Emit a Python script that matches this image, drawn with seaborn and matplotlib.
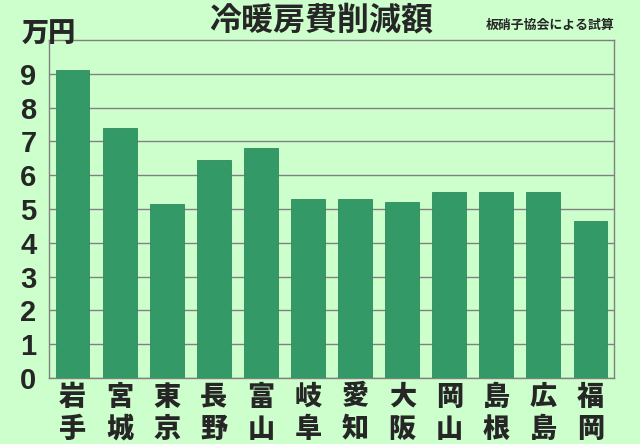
import matplotlib
matplotlib.use("Agg")
import matplotlib.pyplot as plt
import seaborn as sns
import pandas as pd

# データ
地域 = ["岩手", "宮城", "東京", "長野", "富山", "岐阜", "愛知", "大阪", "岡山", "島根", "広島", "福岡"]
削減額 = [9.1, 7.4, 5.15, 6.45, 6.8, 5.3, 5.3, 5.2, 5.5, 5.5, 5.5, 4.65]
目盛 = list(range(0, 10))

df = pd.DataFrame({"地域": ["\n".join(s) for s in 地域], "削減額": 削減額})

sns.set_theme(style="white")
plt.rcParams["font.family"] = ["Noto Sans CJK JP", "DejaVu Sans"]

背景 = "#ccffcc"
fig = plt.figure(figsize=(6.4, 4.44), dpi=100, facecolor=背景)
ax = fig.add_axes([49 / 640, 1 - 378 / 444, (614 - 49) / 640, (378 - 40) / 444])
ax.set_facecolor(背景)

sns.barplot(data=df, x="地域", y="削減額", color="#339966", saturation=1,
            width=0.72, ax=ax, zorder=3)
for p in ax.patches:
    p.set_edgecolor("#2e8b5c")
    p.set_linewidth(0.6)

ax.set_ylim(0, 10)
ax.set_xlim(-0.5, len(地域) - 0.5)
ax.set_yticks(目盛)
ax.yaxis.grid(True, color="#808080", linewidth=1, zorder=0)
ax.set_axisbelow(True)
for s in ax.spines.values():
    s.set_color("#808080")
    s.set_linewidth(1)

ax.set_xlabel("")
ax.set_ylabel("")
ax.tick_params(axis="y", length=4, color="#808080", pad=5, direction="out")
ax.tick_params(axis="x", length=0, pad=3)
for t in ax.get_yticklabels():
    t.set_fontfamily(["Liberation Sans", "DejaVu Sans"])
    t.set_fontweight("bold")
    t.set_fontsize(21)
for t in ax.get_xticklabels():
    t.set_fontweight("black")
    t.set_fontsize(19.5)
    t.set_linespacing(1.15)

# 区切りの小目盛
ax.set_xticks([i + 0.5 for i in range(len(地域) - 1)], minor=True)
ax.tick_params(axis="x", which="minor", length=4, color="#808080", direction="in")

fig.text(321 / 640, 1 - 20 / 444, "冷暖房費削減額", ha="center", va="center",
         fontsize=23, fontweight="bold")
fig.text(22 / 640, 1 - 34 / 444, "万円", ha="left", va="center",
         fontsize=19.5, fontweight="black")
fig.text(614 / 640, 1 - 25 / 444, "板硝子協会による試算", ha="right", va="center",
         fontsize=9.3, fontweight="bold")

fig.savefig("out.png", dpi=100, facecolor=背景)
